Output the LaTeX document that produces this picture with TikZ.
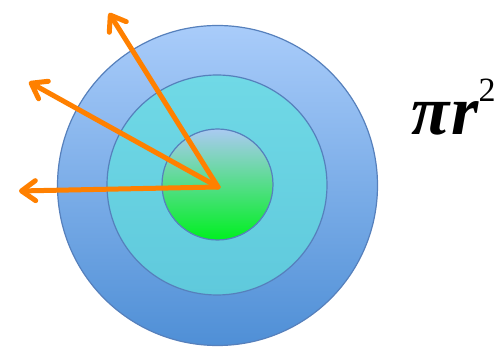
\documentclass[tikz,border=0pt]{standalone}
\usepackage{fontspec}
\setmainfont{Liberation Serif}
\usepackage{xcolor}
\usepackage{tikz}
\usetikzlibrary{arrows.meta, positioning}

\definecolor{ringtop}{HTML}{A9CCFA}
\definecolor{ringbot}{HTML}{4F8FD6}
\definecolor{midtop}{HTML}{70D9E6}
\definecolor{midbot}{HTML}{5FC9DC}
\definecolor{coretop}{HTML}{AACAF2}
\definecolor{coremid}{HTML}{50E086}
\definecolor{corebot}{HTML}{00F020}
\definecolor{rimblue}{HTML}{5680BC}
\definecolor{rayorange}{HTML}{FF8000}

\begin{document}
\begin{tikzpicture}[
    x=1pt, y=-1pt,
    disc/.style={circle, draw=rimblue, line width=1.2pt, inner sep=0pt},
    ray/.style={draw=rayorange, line width=5pt, line cap=round,
      -{Straight Barb[length=14pt, width=20pt, round]}}
  ]
    \useasboundingbox (0,0) rectangle (504,347);

    % Discs - outer to inner
    \node[disc, minimum size=320pt, top color=ringtop, bottom color=ringbot] (outer) at (217.5,185.5) {};
    \node[disc, minimum size=220pt, top color=midtop, bottom color=midbot] (middle) at (217,185) {};
    \node[disc, minimum size=111pt, top color=coretop, middle color=coremid, bottom color=corebot] (core) at (217.5,184.5) {};

    % Rays from the centre
    \coordinate (centre) at (218,187);
    \coordinate (tipa) at (109,13);
    \coordinate (tipb) at (29,82);
    \coordinate (tipc) at (19,191);
    \draw[ray] (centre) -- (tipa);
    \draw[ray] (centre) -- (tipb);
    \draw[ray] (centre) -- (tipc);

    % Label
    \node[anchor=base west, inner sep=0pt] (area) at (411,135)
      {\fontsize{70}{70}\selectfont\bfseries\itshape π\kern2pt r\raisebox{33pt}{\fontsize{34}{34}\selectfont\mdseries\upshape 2}};

  \end{tikzpicture}
\end{document}
